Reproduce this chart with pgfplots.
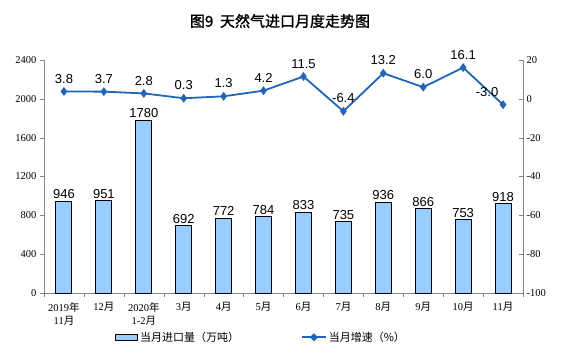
\documentclass[border=0pt]{standalone}
\usepackage{pgfplots}
\pgfplotsset{compat=1.18}
\usepackage{fontspec}
\setmainfont{Liberation Serif}
\newfontfamily\cjk{Noto Sans CJK SC}
\newfontfamily\cjkb[FakeBold=1.5]{Noto Sans CJK SC}
\newfontfamily\arial{Liberation Sans}
\definecolor{barblue}{RGB}{153,204,255}
\definecolor{lineblue}{RGB}{34,100,184}
\definecolor{axgray}{RGB}{134,134,134}
\newcommand{\Y}{{\cjk 年}}
\newcommand{\M}{{\cjk 月}}
\begin{document}
\begin{tikzpicture}
\begin{axis}[
  scale only axis, width=479pt, height=233pt,
  xmin=-0.5, xmax=11.5, ymin=0, ymax=2400,
  axis y line*=left, axis x line*=bottom,
  axis line style={axgray},
  ytick={0,400,...,2400},
  xtick={0,...,11},
  xticklabels={{2019\Y\\11\M},12\M,{2020\Y\\1-2\M},3\M,4\M,5\M,6\M,7\M,8\M,9\M,10\M,11\M},
  xticklabel style={align=center, font=\fontsize{10.5}{13}\selectfont, yshift=-2pt},
  yticklabel style={font=\fontsize{10.5}{12}\selectfont},
  major x tick style={draw=none},
  minor xtick={-0.5,0.5,...,11.5},
  minor tick length=4pt,
  minor x tick style={axgray},
  major tick length=4pt,
  tick align=outside,
  y tick style={axgray},
  /pgf/number format/assume math mode=true,
  /pgf/number format/set thousands separator={},
  ybar, bar width=16pt,
  nodes near coords={\pgfmathprintnumber[fixed,precision=0,set thousands separator={},assume math mode=true]{\pgfplotspointmeta}},
  every node near coord/.append style={font=\arial\fontsize{13}{15}\selectfont, inner sep=2pt},
]
\addplot[fill=barblue, draw=black, line width=1pt] coordinates {
(0,946) (1,951) (2,1780) (3,692) (4,772) (5,784) (6,833) (7,735) (8,936) (9,866) (10,753) (11,918)};
\end{axis}
\begin{axis}[
  scale only axis, width=479pt, height=233pt,
  xmin=-0.5, xmax=11.5, ymin=-100, ymax=20,
  axis y line*=right, axis x line=none,
  axis line style={axgray},
  ytick={-100,-80,...,20},
  yticklabel style={font=\fontsize{10.5}{12}\selectfont},
  major tick length=4pt, tick align=inside,
  y tick style={axgray},
  /pgf/number format/assume math mode=true,
  legend style={at={(0.453,-0.19)}, anchor=center, draw=none, fill=none,
    font=\cjk\fontsize{11}{13}\selectfont,
    /tikz/every even column/.append style={column sep=60pt}},
  legend columns=2,
]
\addlegendimage{legend image code/.code={\draw[fill=barblue,draw=black,line width=1pt] (0pt,-3pt) rectangle (22pt,3pt);}}
\addlegendentry{当月进口量（万吨）}
\addplot[lineblue, line width=1.8pt, mark=diamond*, mark size=3pt,
  visualization depends on={\coordindex \as \idx},
  nodes near coords={\pgfmathprintnumber[fixed,fixed zerofill,precision=1,assume math mode=true]{\pgfplotspointmeta}},
  every node near coord/.append style={font=\arial\fontsize{13}{15}\selectfont, black, anchor=south, yshift=4pt, xshift={(\idx==11)*(-16pt)}},
  legend image code/.code={\draw[lineblue,line width=1.8pt](0pt,0pt)--(24pt,0pt); \fill[lineblue] (12pt,0pt) +(0,2.8pt)--+(2.8pt,0)--+(0,-2.8pt)--+(-2.8pt,0)--cycle;}]
coordinates {
(0,3.8) (1,3.7) (2,2.8) (3,0.3) (4,1.3) (5,4.2) (6,11.5) (7,-6.4) (8,13.2) (9,6.0) (10,16.1) (11,-3.0)};
\addlegendentry{当月增速（\%）}
\end{axis}
\node[font=\cjkb\fontsize{15}{18}\selectfont] at (236pt,272pt) {图9\ \ 天然气进口月度走势图};
\pgfresetboundingbox
\useasboundingbox (-44pt,-64pt) rectangle (517pt,293pt);
\end{tikzpicture}
\end{document}
